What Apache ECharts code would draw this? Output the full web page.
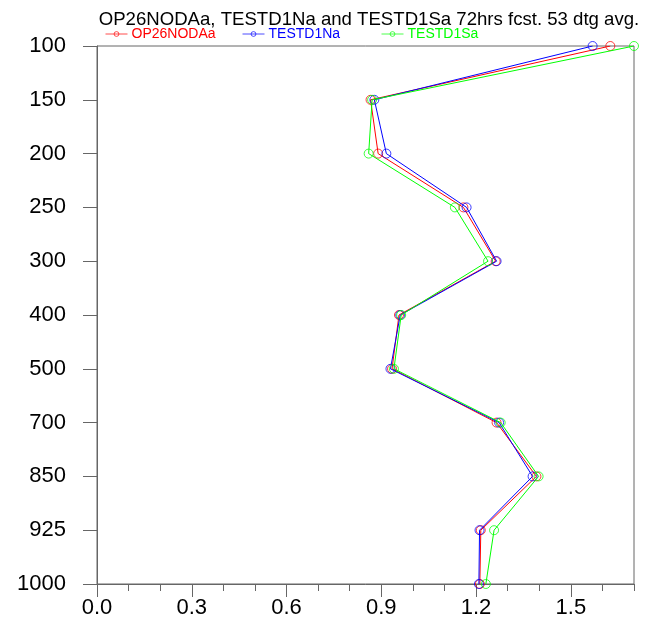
<!DOCTYPE html>
<html>
<head>
<meta charset="utf-8">
<script src="https://cdn.jsdelivr.net/npm/echarts@6/dist/echarts.min.js"></script>
<style>
html,body{margin:0;padding:0;background:#fff;}
#chart{width:654px;height:639px;}
</style>
</head>
<body>
<div id="chart"></div>
<script>
// Pressure levels (hPa), top to bottom
const levels = ['100','150','200','250','300','400','500','700','850','925','1000'];
// Series values
const op26nodaa = [1.625, 0.866, 0.890, 1.160, 1.262, 0.956, 0.934, 1.265, 1.391, 1.215, 1.212];
const testd1na  = [1.569, 0.878, 0.916, 1.170, 1.265, 0.960, 0.929, 1.273, 1.379, 1.211, 1.209];
const testd1sa  = [1.700, 0.871, 0.860, 1.133, 1.238, 0.963, 0.940, 1.278, 1.398, 1.257, 1.231];
const seriesNames = ['OP26NODAa', 'TESTD1Na', 'TESTD1Sa'];
const seriesColors = ['#ff0000', '#0000ff', '#00ff00'];
const xMin = 0, xMax = 1.7, xMajor = 0.3, xMinor = 0.1;
const titleText = 'OP26NODAa, TESTD1Na and TESTD1Sa 72hrs fcst. 53 dtg avg.';

const FONT = '"Liberation Sans", Arial, Helvetica, sans-serif';
const AX = '#666';
const chart = echarts.init(document.getElementById('chart'), null, {renderer: 'canvas'});

const allVals = [op26nodaa, testd1na, testd1sa];
const series = allVals.map((vals, i) => ({
  name: seriesNames[i],
  type: 'line',
  xAxisIndex: 0,
  yAxisIndex: 0,
  data: vals.map((v, j) => [v, levels[j]]),
  symbol: 'circle',
  symbolSize: 9,
  showAllSymbol: true,
  clip: false,
  animation: false,
  lineStyle: {color: seriesColors[i], width: 1},
  itemStyle: {color: 'rgba(255,255,255,0)', borderColor: seriesColors[i], borderWidth: 0.9, opacity: 0.85},
  emphasis: {disabled: true},
  z: 2 + i
}));

const legendLefts = [105, 242, 381];
const legends = seriesNames.map((n, i) => ({
  data: [{name: n, itemStyle: {color: 'rgba(255,255,255,0)', borderColor: seriesColors[i], borderWidth: 0.8},
          lineStyle: {color: seriesColors[i], width: 1, opacity: 0.7}}],
  left: legendLefts[i],
  top: 27,
  orient: 'horizontal',
  itemWidth: 22,
  itemHeight: 6,
  padding: 0,
  selectedMode: false,
  textStyle: {color: seriesColors[i], fontSize: 14, fontFamily: FONT, padding: [0,0,0,-1]}
}));

chart.setOption({
  animation: false,
  backgroundColor: '#fff',
  title: {
    text: titleText,
    left: 364,
    textAlign: 'center',
    top: 5,
    textStyle: {fontSize: 18.6, fontWeight: 'normal', color: '#000', fontFamily: FONT}
  },
  legend: legends,
  grid: {left: 97, right: 20, top: 46, bottom: 55, show: true, borderColor: AX, borderWidth: 1, backgroundColor: 'transparent'},
  xAxis: [
    {
      type: 'value', min: xMin, max: xMax, interval: xMajor, position: 'bottom',
      axisLine: {show: true, lineStyle: {color: AX, width: 1}},
      axisTick: {show: true, length: 13, lineStyle: {color: AX, width: 1}},
      splitLine: {show: false},
      axisLabel: {
        margin: 13, fontSize: 22, color: '#000', fontFamily: FONT,
        showMaxLabel: false,
        formatter: v => (Math.abs(v / xMajor - Math.round(v / xMajor)) < 1e-6) ? v.toFixed(1) : ''
      }
    },
    {
      type: 'value', min: xMin, max: xMax, interval: xMinor, position: 'bottom', offset: 0,
      axisLine: {show: false},
      axisTick: {show: true, length: 7, lineStyle: {color: AX, width: 1}},
      splitLine: {show: false},
      axisLabel: {show: false}
    }
  ],
  yAxis: {
    type: 'category', data: levels, inverse: true, boundaryGap: false,
    axisLine: {show: true, lineStyle: {color: AX, width: 1}},
    axisTick: {show: true, length: 14, lineStyle: {color: AX, width: 1}},
    splitLine: {show: false},
    axisLabel: {margin: 31, fontSize: 22, color: '#000', fontFamily: FONT, interval: 0}
  },
  series: series
});
</script>
</body>
</html>
